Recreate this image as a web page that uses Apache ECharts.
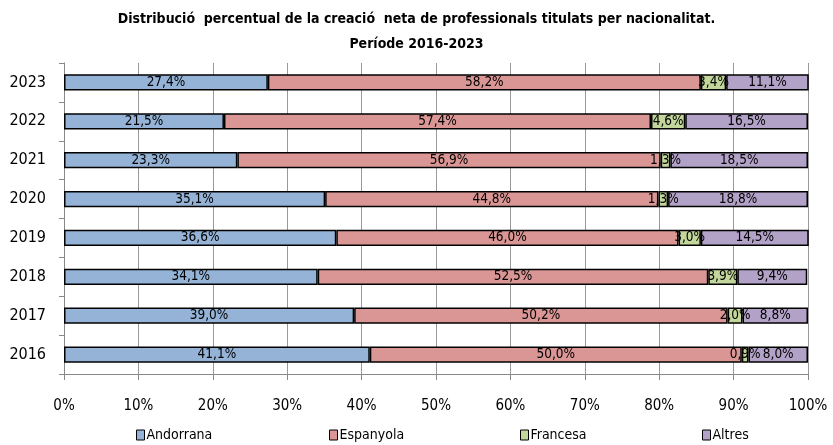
<!DOCTYPE html>
<html>
<head>
<meta charset="utf-8">
<script src="https://cdn.jsdelivr.net/npm/echarts@6/dist/echarts.min.js"></script>
<style>
  html, body { margin: 0; padding: 0; background: #fff; }
  #main { width: 833px; height: 445px; }
</style>
</head>
<body>
<div id="main"></div>
<script>
let myChart = echarts.init(document.getElementById('main'));

// anys (de baix a dalt)
let years = ['2016', '2017', '2018', '2019', '2020', '2021', '2022', '2023'];
let andorrana = [41.1, 39.0, 34.1, 36.6, 35.1, 23.3, 21.5, 27.4];
let espanyola = [50.0, 50.2, 52.5, 46.0, 44.8, 56.9, 57.4, 58.2];
let francesa = [0.9, 2.0, 3.9, 3.0, 1.3, 1.3, 4.6, 3.4];
let altres = [8.0, 8.8, 9.4, 14.5, 18.8, 18.5, 16.5, 11.1];

let names = ['Andorrana', 'Espanyola', 'Francesa', 'Altres'];
let colors = ['#95B3D7', '#D99694', '#C3D69B', '#B3A2C7'];
let values = [andorrana, espanyola, francesa, altres];
let legendLeft = [131, 324, 515, 697];

const font = "'Liberation Sans Narrow', 'DejaVu Sans Condensed', sans-serif";

let series = names.map(function (n, i) {
    return {
        name: n,
        type: 'bar',
        stack: 'total',
        barWidth: '42%',
        data: values[i],
        itemStyle: {
            color: colors[i],
            borderColor: '#000',
            borderWidth: 1.5
        },
        label: {
            show: true,
            position: 'inside',
            color: '#000',
            fontFamily: font,
            fontSize: 13.5,
            formatter: function (p) {
                return p.value.toFixed(1).replace('.', ',') + '%';
            }
        }
    };
});

let legends = names.map(function (n, i) {
    return {
        data: [n],
        left: legendLeft[i],
        top: 423,
        icon: 'rect',
        itemWidth: 8,
        itemHeight: 10,
        itemGap: 2,
        itemStyle: { borderColor: '#000', borderWidth: 1 },
        textStyle: { fontFamily: font, fontSize: 14, color: '#000', padding: [0, 0, 0, -3] },
        selectedMode: false
    };
});

let option = {
    animation: false,
    title: {
        text: 'Distribució  percentual de la creació  neta de professionals titulats per nacionalitat.\nPeríode 2016-2023',
        left: 'center',
        top: 2,
        textStyle: {
            fontFamily: font,
            fontSize: 14,
            fontWeight: 'bold',
            color: '#000',
            lineHeight: 25
        }
    },
    legend: legends,
    grid: {
        left: 64,
        right: 25,
        top: 63,
        bottom: 71
    },
    xAxis: {
        type: 'value',
        min: 0,
        max: 100,
        interval: 10,
        axisLine: { show: true, lineStyle: { color: '#888', width: 1 } },
        axisTick: { show: true, length: 6, lineStyle: { color: '#888' } },
        axisLabel: {
            formatter: '{value}%',
            color: '#000',
            fontFamily: font,
            fontSize: 15,
            margin: 25
        },
        splitLine: { show: true, lineStyle: { color: '#999', width: 1 } }
    },
    yAxis: {
        type: 'category',
        data: years,
        axisLine: { show: true, lineStyle: { color: '#888', width: 1 } },
        axisTick: { show: true, length: 5, lineStyle: { color: '#888' } },
        axisLabel: {
            color: '#000',
            fontFamily: font,
            fontSize: 16,
            margin: 18
        }
    },
    series: series
};

myChart.setOption(option);
</script>
</body>
</html>
